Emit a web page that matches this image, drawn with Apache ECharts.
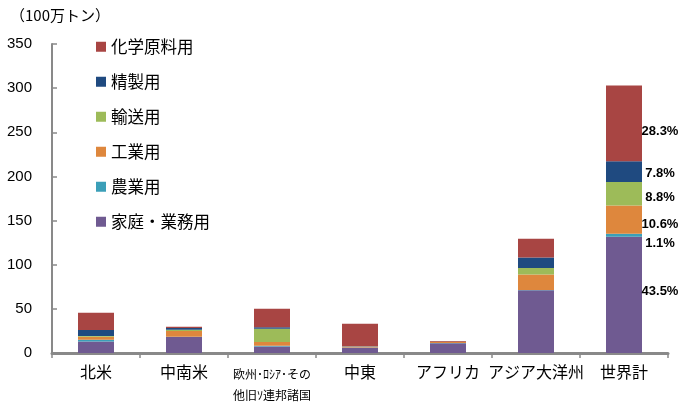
<!DOCTYPE html>
<html><head><meta charset="utf-8">
<script src="https://cdn.jsdelivr.net/npm/echarts@6/dist/echarts.min.js"></script>
<style>html,body{margin:0;padding:0;background:#fff}#c{width:685px;height:406px}</style>
</head><body><div id="c"></div>
<script>
var categories = ['北米','中南米','欧州･ﾛｼｱ･その\n他旧ｿ連邦諸国','中東','アフリカ','アジア大洋州','世界計'];
var household = [13, 18, 7.5, 6, 11, 71, 131.7];
var agriculture = [2, 0.4, 0.8, 0.2, 0.3, 0.5, 3.3];
var industry = [3.5, 6.5, 4.3, 1, 1.2, 17.3, 32.1];
var transport = [0.7, 1.3, 15, 0.2, 0.2, 7.4, 26.6];
var refining = [6.8, 2.2, 1.5, 0.3, 0.1, 12, 23.6];
var chemical = [19.6, 1.2, 21, 25.5, 0.8, 21.2, 85.7];
var worldShares = ['43.5%', '1.1%', '10.6%', '8.8%', '7.8%', '28.3%'];
var seriesNames = ['家庭・業務用','農業用','工業用','輸送用','精製用','化学原料用'];
var yTicks = [0, 50, 100, 150, 200, 250, 300, 350];
var unitLabel = '（100万トン）';

var colors = ['#6F5A91','#3B9FB8','#DE873D','#9DBB59','#1F4A80','#A84543'];
var labelOffsets = [-3, 8.5, 5, 3.5, 2, 8];
var FONT = '"Liberation Sans", Arial, "Noto Sans CJK JP", sans-serif';
var JFONT = '"Noto Sans CJK JP", sans-serif';

var dataSets = [household, agriculture, industry, transport, refining, chemical];
var worldIndex = categories.length - 1;

var series = dataSets.map(function (arr, si) {
  return {
    name: seriesNames[si],
    type: 'bar',
    stack: 'total',
    barWidth: 36,
    itemStyle: { color: colors[si] },
    data: arr.map(function (v, i) {
      if (i === worldIndex) {
        return {
          value: v,
          label: {
            show: true,
            position: 'right',
            distance: 18,
            align: 'center',
            offset: [0, labelOffsets[si]],
            formatter: worldShares[si],
            color: '#000',
            fontSize: 13,
            fontWeight: 'bold',
            fontFamily: FONT
          }
        };
      }
      return v;
    })
  };
});

var chart = echarts.init(document.getElementById('c'), null, { renderer: 'canvas' });
chart.setOption({
  animation: false,
  backgroundColor: '#fff',
  grid: { left: 52, right: 17, top: 44, bottom: 49.5, containLabel: false },
  legend: {
    data: seriesNames.slice().reverse(),
    orient: 'vertical',
    left: 91,
    top: 33.5,
    padding: 5,
    itemWidth: 10,
    itemHeight: 10,
    itemGap: 18.5,
    icon: 'rect',
    textStyle: { fontSize: 16.5, lineHeight: 16, color: '#000', fontFamily: JFONT }
  },
  graphic: [{
    type: 'text', left: 10, top: 8,
    style: { text: unitLabel, fill: '#000', font: '15px ' + JFONT }
  }],
  xAxis: {
    type: 'category',
    data: categories,
    axisLine: { lineStyle: { color: '#898989', width: 3 } },
    axisTick: { show: true, length: 5, lineStyle: { color: '#898989', width: 1.5 } },
    axisLabel: {
      interval: 0,
      margin: 11,
      color: '#000',
      fontSize: 16,
      lineHeight: 16,
      fontFamily: JFONT,
      formatter: function (v) {
        if (v.indexOf('\n') >= 0) {
          return v.split('\n').map(function (s) { return '{e|' + s + '}'; }).join('\n');
        }
        return v;
      },
      rich: { e: { fontSize: 12, lineHeight: 21, fontFamily: JFONT, color: '#000' } }
    }
  },
  yAxis: {
    type: 'value',
    min: yTicks[0],
    max: yTicks[yTicks.length - 1],
    interval: yTicks[1] - yTicks[0],
    axisLine: { show: true, lineStyle: { color: '#898989', width: 2 } },
    axisTick: { show: true, inside: true, length: 5, lineStyle: { color: '#898989', width: 1.5 } },
    splitLine: { show: false },
    axisLabel: { margin: 20, color: '#000', fontSize: 15, fontFamily: FONT }
  },
  series: series
});
</script>
</body></html>
